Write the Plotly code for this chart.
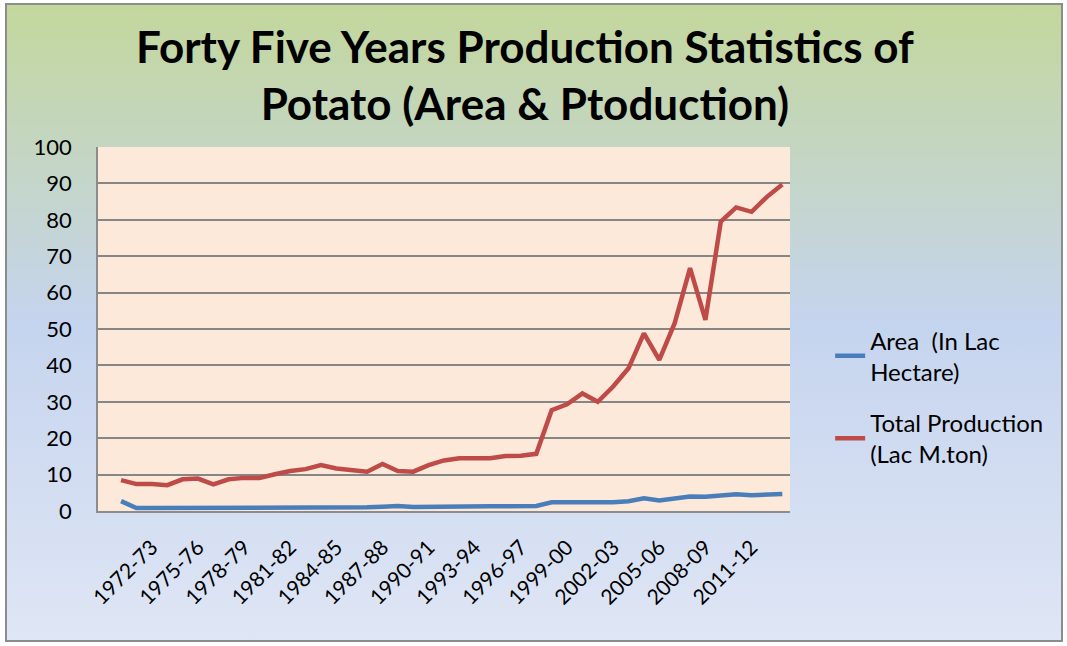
import base64

import plotly.graph_objects as go

# seasons on the category axis (first category carries no data)
seasons = [
    "1969-70", "1970-71", "1971-72", "1972-73", "1973-74",
    "1974-75", "1975-76", "1976-77", "1977-78", "1978-79",
    "1979-80", "1980-81", "1981-82", "1982-83", "1983-84",
    "1984-85", "1985-86", "1986-87", "1987-88", "1988-89",
    "1989-90", "1990-91", "1991-92", "1992-93", "1993-94",
    "1994-95", "1995-96", "1996-97", "1997-98", "1998-99",
    "1999-00", "2000-01", "2001-02", "2002-03", "2003-04",
    "2004-05", "2005-06", "2006-07", "2007-08", "2008-09",
    "2009-10", "2010-11", "2011-12", "2012-13", "2013-14",
]

area = [
    None, 2.7, 0.8, 0.8, 0.8, 0.9, 0.9, 0.8, 0.8, 0.9,
    0.9, 1.0, 1.0, 1.0, 1.1, 1.1, 1.0, 1.0, 1.2, 1.4,
    1.1, 1.2, 1.3, 1.3, 1.3, 1.3, 1.3, 1.3, 1.4, 2.4,
    2.4, 2.4, 2.3, 2.4, 2.7, 3.5, 2.9, 3.4, 4.0, 3.9,
    4.3, 4.6, 4.3, 4.5, 4.7,
]

production = [
    None, 8.5, 7.4, 7.4, 7.1, 8.7, 8.9, 7.3, 8.7, 9.1,
    9.1, 10.1, 11.0, 11.5, 12.6, 11.7, 11.1, 10.8, 12.9, 11.0,
    10.8, 12.6, 13.9, 14.5, 14.5, 14.5, 15.1, 15.2, 15.7, 27.7,
    29.3, 32.3, 30.0, 34.2, 39.2, 48.8, 41.5, 51.6, 66.7, 52.5,
    79.5, 83.4, 82.2, 86.3, 89.7,
]

tick_labels = [
    "1972-73", "1975-76", "1978-79", "1981-82", "1984-85",
    "1987-88", "1990-91", "1993-94", "1996-97", "1999-00",
    "2002-03", "2005-06", "2008-09", "2011-12",
]

W, H = 1067, 646
L, R, T, B = 98, 277, 147, 135
FONT = "Lato"

# gradient chart background with a grey frame, as an inline svg
svg = f"""<svg xmlns='http://www.w3.org/2000/svg' width='{W}' height='{H}'>
<defs><linearGradient id='g' x1='0' y1='0' x2='0' y2='1'>
<stop offset='0' stop-color='#c3d79c'/>
<stop offset='0.5' stop-color='#c5d4ee'/>
<stop offset='1' stop-color='#dfe6f5'/>
</linearGradient></defs>
<rect width='{W}' height='{H}' fill='white'/>
<rect x='6' y='4' width='1056' height='637' fill='url(#g)' stroke='#8c8c8c' stroke-width='2'/>
</svg>"""
bg_src = "data:image/svg+xml;base64," + base64.b64encode(svg.encode()).decode()

pw, ph = W - L - R, H - T - B

fig = go.Figure()
fig.add_trace(go.Scatter(
    x=seasons, y=area, mode="lines", name="Area  (In Lac<br>Hectare)",
    legendgroup="area", line=dict(color="#4a7ebb", width=4.5),
))
fig.add_trace(go.Scatter(
    x=seasons, y=production, mode="lines", name="Total Production<br>(Lac M.ton)",
    legendgroup="prod", line=dict(color="#be4b48", width=4.5),
))

fig.add_layout_image(
    source=bg_src, xref="paper", yref="paper",
    x=-L / pw, y=1 + T / ph, sizex=W / pw, sizey=H / ph,
    xanchor="left", yanchor="top", sizing="stretch", layer="below",
)
fig.add_shape(
    type="rect", xref="paper", yref="paper", x0=0, x1=1, y0=0, y1=1,
    fillcolor="#fde9d9", line_width=0, layer="below",
)

# chart title as an annotation so both lines sit where the original has them
fig.add_annotation(
    text="<b>Forty Five Years Production Statistics of<br>Potato (Area & Ptoduction)</b>",
    xref="paper", yref="paper", x=(525 - L) / pw, y=1 + (T - 18) / ph,
    xanchor="center", yanchor="top", showarrow=False, align="center",
    font=dict(family=FONT, size=44, color="black"),
)

fig.update_xaxes(
    type="category", range=[-0.5, len(seasons) - 0.5],
    tickmode="array", tickvals=tick_labels, ticktext=tick_labels,
    tickangle=-45, tickfont=dict(family=FONT, size=21, color="black"),
    ticks="outside", ticklen=14, tickcolor="rgba(0,0,0,0)",
    showgrid=False, showline=True, linecolor="#8c8c8c", linewidth=1.5,
)
fig.update_yaxes(
    range=[0, 100], dtick=10,
    tickfont=dict(family=FONT, size=22, color="black"),
    ticks="outside", ticklen=20, tickcolor="rgba(0,0,0,0)",
    showgrid=True, gridcolor="#868686", gridwidth=1.5,
    zeroline=False, showline=True, linecolor="#8c8c8c", linewidth=1.5,
)

fig.update_layout(
    width=W, height=H,
    margin=dict(l=L, r=R, t=T, b=B),
    paper_bgcolor="white",
    plot_bgcolor="rgba(0,0,0,0)",
    legend=dict(
        x=1.058, y=0.53, xanchor="left", yanchor="top",
        font=dict(family=FONT, size=24, color="black"),
        bgcolor="rgba(0,0,0,0)", tracegroupgap=17,
    ),
    showlegend=True,
)

fig.write_html(
    "out.html",
    config={"displayModeBar": False},
    post_script="document.body.style.margin='0';",
)
